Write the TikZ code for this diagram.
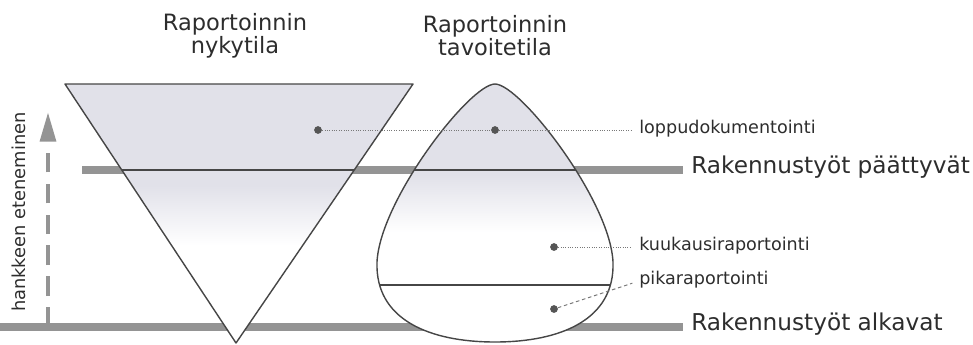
\documentclass[tikz,border=0pt]{standalone}
\usepackage{fontspec}
\setmainfont{DejaVu Sans}
\usetikzlibrary{arrows.meta}

\definecolor{fillc}{RGB}{225,225,233}
\definecolor{linec}{RGB}{70,70,70}
\definecolor{bandc}{RGB}{148,148,148}
\definecolor{dotc}{RGB}{85,85,85}
\definecolor{leadc}{RGB}{120,120,120}
\definecolor{txtc}{RGB}{45,45,45}

\begin{document}
\begin{tikzpicture}[
  x=0.025cm, y=-0.025cm,                 % <-- pixel grid, y down
  font=\fontsize{12.5}{14}\selectfont,
  outline/.style={line width=1pt, draw=linec},
  band/.style={line width=5pt, draw=bandc, shorten >=5.7pt},
  progress/.style={line width=3.2pt, draw=bandc, dash pattern=on 14pt off 8pt,
    -{Triangle[width=11pt, length=21pt]}},
  dot/.style={circle, fill=dotc, minimum size=5.5pt, inner sep=0pt},
  leader/.style={line width=0.7pt, draw=leadc, densely dotted},
  leaderdash/.style={line width=0.7pt, draw=leadc, dash pattern=on 2.5pt off 2pt},
  small/.style={text=txtc, anchor=mid west, inner sep=0pt},
  big/.style={font=\fontsize{16.5}{19}\selectfont, text=txtc, anchor=mid west, inner sep=0pt},
  title/.style={font=\fontsize{16}{14.5}\selectfont, text=txtc, align=center}
]
\useasboundingbox (0,0) rectangle (973,344);

% ===================== Bands =====================
\coordinate (b1s) at (82,170);
\coordinate (b2s) at (0,327);

\node[big] (lend)   at (691,170) {Rakennustyöt päättyvät};
\node[big] (lstart) at (691,327) {Rakennustyöt alkavat};

\draw[band] (b1s) -- (lend.mid west);
\draw[band] (b2s) -- (lstart.mid west);

% ===================== LEFT: triangle (nykytila) =====================
\coordinate (tl) at (65,84);
\coordinate (tr) at (413,84);
\coordinate (tb) at (236,343);

\begin{scope}
  \clip (tl) -- (tr) -- (tb) -- cycle;
  \fill[white] (0,84) rectangle (973,344);
  \fill[fillc] (0,84) rectangle (973,186);
  \shade[top color=fillc, bottom color=white] (0,185) rectangle (973,245);
  \draw[outline] (0,170) -- (973,170);   % rakennustyöt päättyvät
\end{scope}
\draw[outline, line join=round] (tl) -- (tr) -- (tb) -- cycle;

% ===================== RIGHT: drop (tavoitetila) =====================
\coordinate (dtop)   at (495,84);
\coordinate (dleft)  at (377,262);
\coordinate (dbot)   at (495,342);
\coordinate (dright) at (613,262);

\begin{scope}
  \clip (dtop) .. controls (470,84) and (380,200) .. (dleft)
        .. controls (375,320) and (430,342) .. (dbot)
        .. controls (560,342) and (615,320) .. (dright)
        .. controls (610,200) and (520,84) .. (dtop) -- cycle;
  \fill[white] (0,84) rectangle (973,344);
  \fill[fillc] (0,84) rectangle (973,176);
  \shade[top color=fillc, bottom color=white] (0,175) rectangle (973,232);
  \draw[outline] (0,170) -- (973,170);   % rakennustyöt päättyvät
  \draw[outline] (0,285) -- (973,285);   % pikaraportointi
\end{scope}
\draw[outline] (dtop) .. controls (470,84) and (380,200) .. (dleft)
      .. controls (375,320) and (430,342) .. (dbot)
      .. controls (560,342) and (615,320) .. (dright)
      .. controls (610,200) and (520,84) .. (dtop) -- cycle;

% ===================== Labels + leaders =====================
\node[small] (lloppu) at (639,130) {loppudokumentointi};
\node[small] (lkuu)   at (639,247) {kuukausiraportointi};
\node[small] (lpika)  at (639,281) {pikaraportointi};

\node[dot] (dt) at (318,130) {};
\node[dot] (dd) at (495,130) {};
\node[dot] (dk) at (554,247) {};
\node[dot] (dp) at (554,309) {};

\draw[leader] (dt) -- (dd);
\draw[leader, shorten >=5pt] (dd) -- (lloppu.mid west);
\draw[leader, shorten >=5pt] (dk) -- (lkuu.mid west);
\draw[leaderdash, shorten >=5pt] (dp) -- (lpika.mid west);

% ===================== Titles =====================
\node[title] (tnow)  at (235,36) {Raportoinnin\\nykytila};
\node[title] (tgoal) at (495,36) {Raportoinnin\\tavoitetila};

% ===================== Progress arrow =====================
\coordinate (p0) at (48,327);
\coordinate (p1) at (48,112);
\draw[progress] (p0) -- (p1);
\node[text=txtc, rotate=90, inner sep=0pt, font=\fontsize{12.7}{15}\selectfont]
  (lprog) at (19,212) {hankkeen eteneminen};

\end{tikzpicture}
\end{document}
